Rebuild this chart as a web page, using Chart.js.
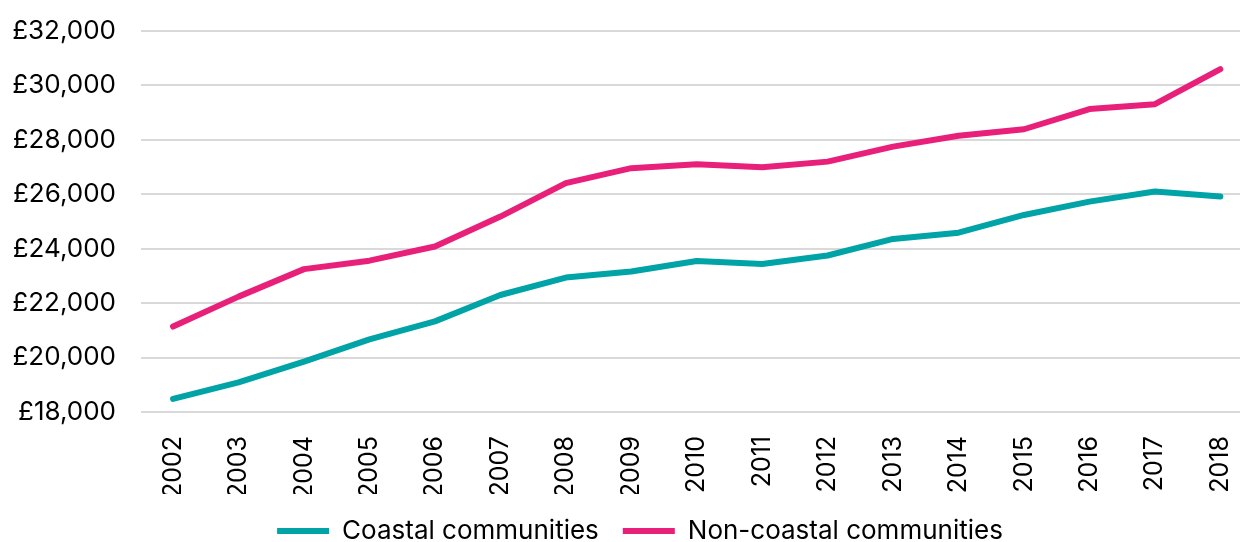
<!DOCTYPE html>
<html lang="en">
<head>
<meta charset="utf-8">
<title>Average earnings: coastal vs non-coastal communities</title>
<script src="https://cdn.jsdelivr.net/npm/chart.js@4/dist/chart.umd.min.js"></script>
<style>
  html, body { margin: 0; padding: 0; background: #ffffff; overflow: hidden; }
  #wrap { width: 1240px; height: 542px; }
</style>
</head>
<body>
<div id="wrap"><canvas id="chart" width="1240" height="542"></canvas></div>
<script>
// Years shown on the horizontal axis
const years = ['2002', '2003', '2004', '2005', '2006', '2007', '2008', '2009', '2010',
               '2011', '2012', '2013', '2014', '2015', '2016', '2017', '2018'];

// Median annual earnings (£)
const coastal = [18480, 19090, 19850, 20670, 21330, 22300, 22940, 23160, 23550,
                 23440, 23750, 24360, 24590, 25240, 25730, 26100, 25920];
const nonCoastal = [21140, 22240, 23250, 23560, 24080, 25180, 26410, 26960, 27100,
                    26990, 27200, 27750, 28150, 28390, 29130, 29310, 30600];

// Value axis ticks
const yTicks = [18000, 20000, 22000, 24000, 26000, 28000, 30000, 32000];

const seriesNames = ['Coastal communities', 'Non-coastal communities'];
const seriesColours = ['#00A3A6', '#E8207A'];

const toPoints = vals => vals.map((v, i) => ({ x: Number(years[i]), y: v }));

const FONT = 'Inter, "Liberation Sans", Arial, sans-serif';

new Chart(document.getElementById('chart'), {
  type: 'line',
  data: {
    datasets: [coastal, nonCoastal].map((vals, i) => ({
      label: seriesNames[i],
      data: toPoints(vals),
      borderColor: seriesColours[i],
      backgroundColor: seriesColours[i],
      borderWidth: 6,
      borderCapStyle: 'round',
      borderJoinStyle: 'round',
      pointRadius: 0,
      pointHoverRadius: 0,
      tension: 0,
      fill: false
    }))
  },
  options: {
    responsive: false,
    devicePixelRatio: 1,
    animation: false,
    layout: { autoPadding: false, padding: { top: 31, left: 0, right: -40, bottom: -12 } },
    plugins: {
      tooltip: { enabled: false },
      legend: {
        position: 'bottom',
        align: 'center',
        labels: {
          color: '#000000',
          font: { family: FONT, size: 26 },
          boxWidth: 52,
          boxHeight: 6,
          useBorderRadius: true,
          borderRadius: 3,
          padding: 24,
          generateLabels(chart) {
            return chart.data.datasets.map((ds, i) => ({
              text: ds.label,
              fillStyle: ds.borderColor,
              strokeStyle: ds.borderColor,
              lineWidth: 0,
              hidden: false,
              datasetIndex: i,
              fontColor: '#000000'
            }));
          }
        }
      }
    },
    scales: {
      x: {
        type: 'linear',
        min: 2001.51,
        max: 2018.3,
        grid: { display: false },
        border: { display: false },
        afterFit(scale) {
          scale.height = 82;
          scale.paddingLeft = 0;
          scale.paddingRight = 0;
        },
        ticks: {
          stepSize: 1,
          includeBounds: false,
          autoSkip: false,
          minRotation: 90,
          maxRotation: 90,
          padding: 16,
          color: '#000000',
          font: { family: FONT, size: 25 },
          callback: v => years.includes(String(v)) ? String(v) : ''
        }
      },
      y: {
        min: yTicks[0],
        max: yTicks[yTicks.length - 1],
        afterFit(scale) {
          scale.width = 141;
          scale.paddingTop = 0;
          scale.paddingBottom = 0;
        },
        afterBuildTicks(scale) { scale.ticks = yTicks.map(v => ({ value: v })); },
        grid: { color: '#D9D9D9', lineWidth: 2, drawTicks: false },
        border: { display: false },
        ticks: {
          padding: 25,
          color: '#000000',
          font: { family: FONT, size: 26 },
          callback: v => '£' + Number(v).toLocaleString('en-GB')
        }
      }
    }
  }
});
</script>
</body>
</html>
